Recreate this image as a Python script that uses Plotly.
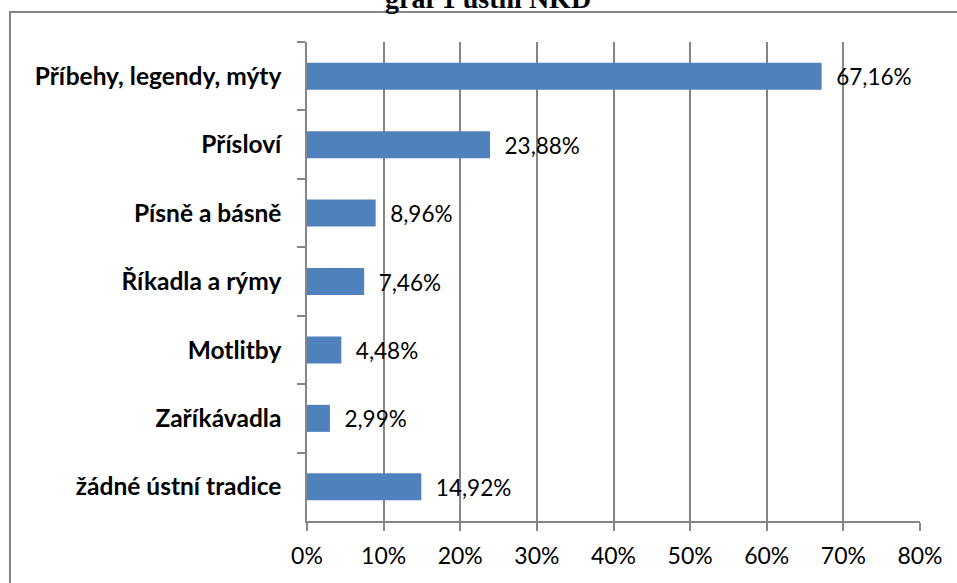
import plotly.graph_objects as go

categories = ['Příbehy, legendy, mýty', 'Přísloví', 'Písně a básně', 'Říkadla a rýmy',
              'Motlitby', 'Zaříkávadla', 'žádné ústní tradice']
values = [67.16, 23.88, 8.96, 7.46, 4.48, 2.99, 14.92]
tick_vals = [0, 10, 20, 30, 40, 50, 60, 70, 80]
tick_text = [f'{v}%' for v in tick_vals]
labels = ['\u00a0\u00a0' + f'{v:.2f}%'.replace('.', ',') for v in values]

fig = go.Figure()
fig.add_trace(go.Bar(y=categories, x=values, orientation='h',
                     marker=dict(color='#4F81BD', line=dict(width=0)),
                     text=labels, textposition='outside', cliponaxis=False,
                     textfont=dict(family='Lato', size=25, color='black')))

fig.update_layout(width=957, height=583, paper_bgcolor='white', plot_bgcolor='white',
                  margin={'l': 307, 'r': 37, 't': 42, 'b': 62},
                  bargap=0.605, showlegend=False,
                  title=dict(text='<b>graf 1 ústní NKD</b>', x=0.51, xref='container', xanchor='center',
                             y=0.986, yref='container', yanchor='bottom',
                             font=dict(family='Liberation Serif', size=28, color='black')),
                  )
fig.update_xaxes(range=[0, 80], tickvals=tick_vals, ticktext=tick_text,
                 showgrid=True, gridcolor='#868686', gridwidth=1.5,
                 showline=True, linecolor='#868686', linewidth=1.5,
                 ticks='outside', ticklen=8, tickcolor='#868686', tickwidth=1.5,
                 ticklabelstandoff=6,
                 tickfont=dict(family='Lato', size=23, color='black'), zeroline=False)
fig.update_yaxes(autorange='reversed', tickson='boundaries',
                 showline=True, linecolor='#868686', linewidth=1.5,
                 ticks='outside', ticklen=8, tickcolor='#868686', tickwidth=1.5,
                 ticklabelstandoff=19,
                 tickfont=dict(family='Lato', size=24.5, color='black', weight='bold'),
                 showgrid=False)

# outer chart border
fig.add_shape(type='rect', xref='paper', yref='paper',
              x0=(10 - 307) / 613, x1=1.2, y0=-0.3, y1=(521 - 12) / 479,
              line=dict(color='#868686', width=2), layer='below')

fig.write_html("out.html", config={'displayModeBar': False},
               post_script="document.body.style.margin='0';")
